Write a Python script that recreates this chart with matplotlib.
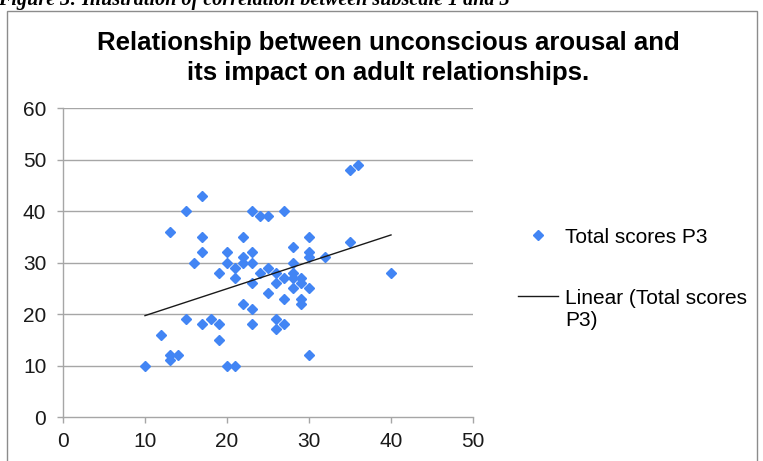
import numpy as np
import matplotlib
matplotlib.use('Agg')
import matplotlib.pyplot as plt
from matplotlib.patches import Rectangle

plt.rcParams['font.family'] = ['Liberation Sans', 'DejaVu Sans']

# subscale 1 scores (x) and total scores P3 (y)
subscale1 = [10, 12, 13, 13, 14, 13, 15, 15, 16, 17, 17, 17, 17, 18,
             19, 19, 19, 20, 20, 20, 21, 21, 21, 22, 22, 22, 22,
             23, 23, 23, 23, 23, 23, 24, 24, 25, 25, 25, 26, 26, 26, 26,
             27, 27, 27, 27, 28, 28, 28, 28, 28, 29, 29, 29, 29,
             30, 30, 30, 30, 30, 32, 35, 35, 36, 40]
scoresP3 = [10, 16, 12, 11, 12, 36, 40, 19, 30, 43, 35, 32, 18, 19,
            28, 18, 15, 32, 30, 10, 29, 27, 10, 35, 31, 30, 22,
            40, 32, 30, 26, 21, 18, 39, 28, 39, 29, 24, 28, 26, 19, 17,
            40, 27, 23, 18, 33, 30, 28, 27, 25, 27, 26, 23, 22,
            35, 32, 31, 25, 12, 31, 48, 34, 49, 28]

xTicks = [0, 10, 20, 30, 40, 50]
yTicks = [0, 10, 20, 30, 40, 50, 60]

chartTitle = 'Relationship between unconscious arousal and\nits impact on adult relationships.'
caption = 'Figure 3: Illustration of correlation between subscale 1 and 3'

W, H = 763, 461
fig = plt.figure(figsize=(W / 100, H / 100), dpi=100)
ax = fig.add_axes([63 / W, 1 - 417 / H, (473 - 63) / W, (417 - 108) / H])

gridColor = '#a6a6a6'
ax.set_xlim(0, 50)
ax.set_ylim(0, 60)
ax.set_xticks(xTicks)
ax.set_yticks(yTicks)
for y in yTicks[1:]:
    ax.axhline(y, color=gridColor, lw=1.0, zorder=0)

for side in ['top', 'right']:
    ax.spines[side].set_visible(False)
for side in ['left', 'bottom']:
    ax.spines[side].set_color(gridColor)
    ax.spines[side].set_linewidth(1.0)
ax.tick_params(direction='out', length=4, width=1.0, color=gridColor,
               labelsize=15, labelcolor='#1a1a1a')
ax.tick_params(axis='x', pad=7)
ax.tick_params(axis='y', pad=8)

ax.plot(subscale1, scoresP3, linestyle='none', marker='D', markersize=5.2,
        color='#4285F4', label='Total scores P3', zorder=3)

# linear trendline over the data range
slope, intercept = np.polyfit(subscale1, scoresP3, 1)
xLine = np.array([min(subscale1), max(subscale1)])
ax.plot(xLine, slope * xLine + intercept, color='#1a1a1a', lw=1.0,
        label='Linear (Total scores\nP3)', zorder=4)

leg = ax.legend(loc='upper left', bbox_to_anchor=(518 / W, 1 - 228 / H),
                bbox_transform=fig.transFigure, frameon=False, fontsize=15,
                handlelength=1.92, handletextpad=0.34, labelspacing=2.0,
                borderpad=0, borderaxespad=0)
for col in leg._legend_handle_box.get_children():
    for item in col.get_children():
        item.align = 'top'
for t in leg.get_texts():
    t.set_linespacing(1.25)

fig.text(388 / W, 1 - 31 / H, chartTitle, ha='center', va='top',
         fontsize=18.5, fontweight='bold', linespacing=1.3)

fig.text(-2 / W, 1 - 5 / H, caption, ha='left', va='baseline',
         fontsize=14.5, fontweight='bold', fontstyle='italic',
         family=['Liberation Serif', 'DejaVu Serif'])

fig.patches.append(Rectangle((7 / W, -0.05), (757 - 7) / W, 1.05 - 11 / H,
                             transform=fig.transFigure, fill=False,
                             edgecolor='#8c8c8c', lw=1.0))

fig.savefig('out.png', dpi=100)
